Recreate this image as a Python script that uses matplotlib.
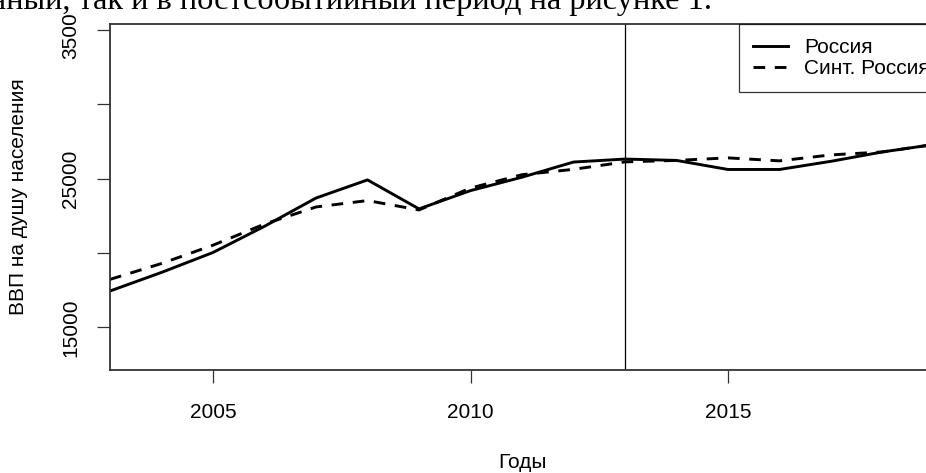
import matplotlib
matplotlib.use("Agg")
import matplotlib.pyplot as plt
from matplotlib.patches import Rectangle

# ── Data ──────────────────────────────────────────────────────────
years = list(range(2003, 2020))
russia = [17450, 18700, 20040, 21800, 23700, 24920, 22970, 24200, 25100,
          26120, 26320, 26230, 25620, 25620, 26170, 26800, 27300]
synth_russia = [18230, 19300, 20530, 21950, 23100, 23530, 22900, 24370, 25270,
                25630, 26130, 26230, 26400, 26200, 26600, 26800, 27300]
treat_year = 2013

x_ticks = [2005, 2010, 2015]
y_ticks = [15000, 20000, 25000, 30000, 35000]
y_ticklabels = ["15000", "", "25000", "", "35000"]

series_labels = ["Россия", "Синт. Россия"]
x_title = "Годы"
y_title = "ВВП на душу населения"
doc_line = "нный, так и в постсобытийный период на рисунке 1."

plt.rcParams["font.family"] = ["Liberation Sans", "DejaVu Sans"]

W, H = 926, 473
fig = plt.figure(figsize=(W / 100, H / 100), dpi=100)
# plot region: left 110px, top 24px, bottom 370px, right edge past the crop
ax = fig.add_axes([110 / W, 1 - 370 / H, 824 / W, 346 / H])

ax.plot(years, russia, color="black", lw=2.1, label=series_labels[0])
ax.plot(years, synth_russia, color="black", lw=2.1, ls=(0, (4, 3.3)),
        label=series_labels[1])
ax.axvline(treat_year, color="black", lw=0.9)

ax.set_xlim(2003, 2019)
ax.set_ylim(12140, 35400)
ax.set_xticks(x_ticks)
ax.set_yticks(y_ticks)
ax.set_yticklabels(y_ticklabels)

for sp in ax.spines.values():
    sp.set_color("#333333")
    sp.set_linewidth(1.3)
ax.tick_params(axis="both", direction="out", length=9.4, width=0.9,
               color="#333333", labelsize=15, pad=12)
ax.tick_params(axis="x", pad=14)
for lbl in ax.get_yticklabels():
    lbl.set_rotation(90)
    lbl.set_va("center")

ax.set_xlabel(x_title, fontsize=15, va="center")
ax.xaxis.set_label_coords(0.5, (370 - 462) / 346)
ax.set_ylabel(y_title, fontsize=15, va="center")
ax.yaxis.set_label_coords((19 - 110) / 824, 0.5)

leg = ax.legend(loc="upper left", bbox_to_anchor=((739 - 110) / 824, 1.0),
                borderaxespad=0, fontsize=15, frameon=True, fancybox=False,
                handlelength=1.68, handletextpad=0.77, borderpad=0.68,
                labelspacing=0.08)
leg.get_frame().set_edgecolor("black")
leg.get_frame().set_linewidth(0.9)

# ── document text line cut off above the picture ─────────────────
fig.patches.append(Rectangle((0, 1 - 13 / H), 1, 13 / H,
                             transform=fig.transFigure, color="white",
                             zorder=10))
fig.text(712 / W, 1 - 9 / H, doc_line, ha="right", va="baseline",
         fontsize=23.3, family=["Liberation Serif", "DejaVu Serif"], zorder=11)

fig.savefig("out.png", dpi=100)
